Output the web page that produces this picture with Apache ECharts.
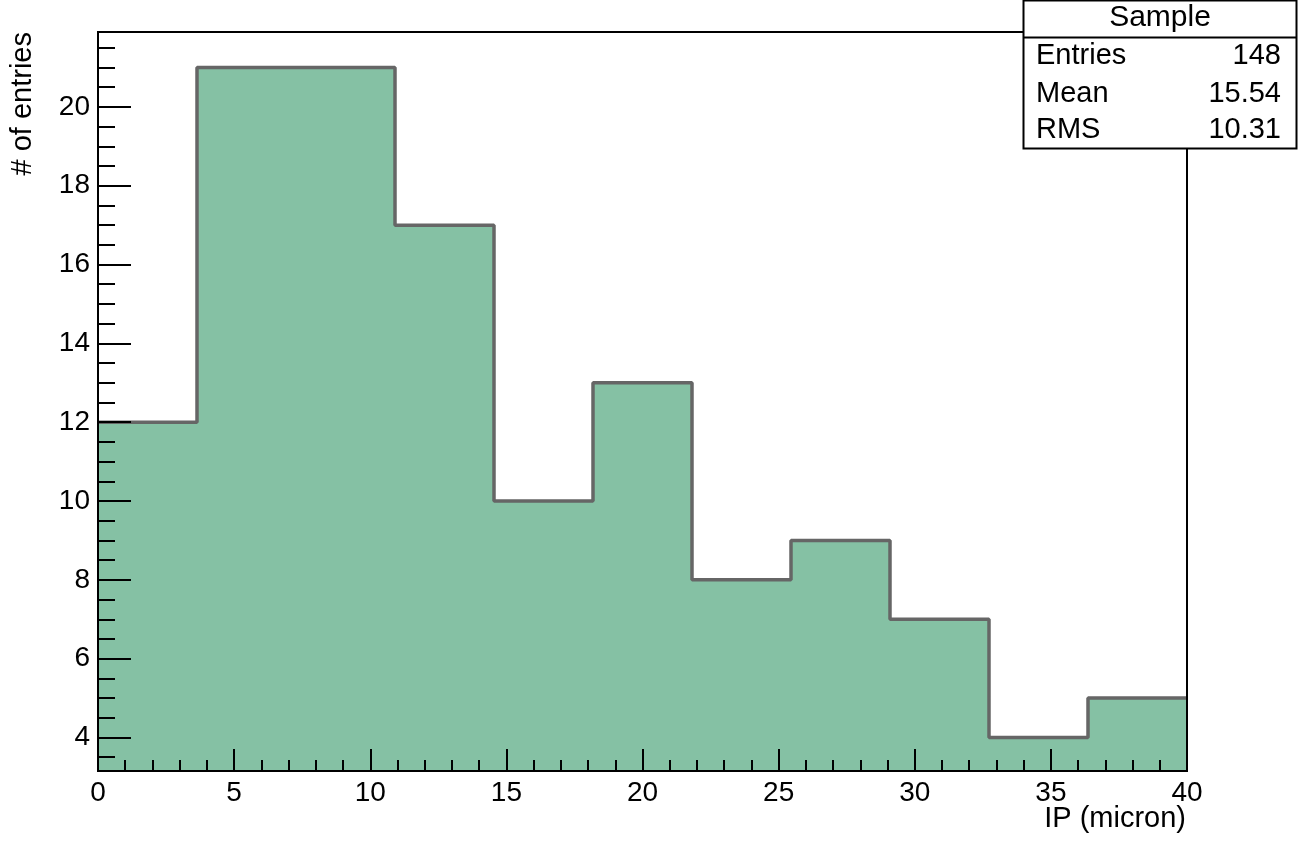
<!DOCTYPE html>
<html>
<head>
<meta charset="utf-8">
<script src="https://cdn.jsdelivr.net/npm/echarts@6/dist/echarts.min.js"></script>
<style>
html,body{margin:0;padding:0;background:#fff;}
#c{width:1298px;height:841px;}
</style>
</head>
<body>
<div id="c"></div>
<script>
// ---- data ----
const xRange = [0, 40];
const nBins = 11;
const binCounts = [12, 21, 21, 17, 10, 13, 8, 9, 7, 4, 5];
const yRange = [3.15, 21.9];
const statsTitle = 'Sample';
const statsLabels = ['Entries', 'Mean', 'RMS'];
const statsValues = ['148', '15.54', '10.31'];
const xTitle = 'IP (micron)';
const yTitle = '# of entries';

// build step points from bin edges
const binWidth = (xRange[1] - xRange[0]) / nBins;
const stepData = binCounts.map((v, i) => [xRange[0] + i * binWidth, v]);
stepData.push([xRange[1], binCounts[binCounts.length - 1]]);

const font = '"Liberation Sans", Arial, Helvetica, sans-serif';
const chart = echarts.init(document.getElementById('c'), null, {renderer: 'canvas'});

const statsGraphics = [
  {type: 'rect', shape: {x: 1023.5, y: 0.5, width: 273, height: 148}, style: {fill: '#fff', stroke: '#000', lineWidth: 2}, z: 100},
  {type: 'line', shape: {x1: 1023.5, y1: 37.5, x2: 1296.5, y2: 37.5}, style: {stroke: '#000', lineWidth: 2}, z: 101},
  {type: 'text', x: 1160, y: 18, style: {text: statsTitle, font: '30px ' + font, fill: '#000', align: 'center', verticalAlign: 'middle'}, z: 102}
];
const rowY = [56, 94, 130];
statsLabels.forEach((lab, i) => {
  statsGraphics.push({type: 'text', x: 1036, y: rowY[i], style: {text: lab, font: '29px ' + font, fill: '#000', align: 'left', verticalAlign: 'middle'}, z: 102});
  statsGraphics.push({type: 'text', x: 1281, y: rowY[i], style: {text: statsValues[i], font: '29px ' + font, fill: '#000', align: 'right', verticalAlign: 'middle'}, z: 102});
});

const option = {
  animation: false,
  backgroundColor: '#fff',
  grid: {left: 98, right: 111, top: 32, bottom: 70, containLabel: false, outerBoundsMode: 'none',
    show: true, borderColor: '#000', borderWidth: 2, backgroundColor: 'transparent', z: 10},
  xAxis: {
    type: 'value', min: xRange[0], max: xRange[1], interval: 5,
    axisLine: {show: true, onZero: false, lineStyle: {color: '#000', width: 2}},
    axisTick: {show: true, inside: true, length: 22, lineStyle: {color: '#000', width: 2}},
    minorTick: {show: true, splitNumber: 5, length: 11, lineStyle: {color: '#000', width: 2}},
    axisLabel: {fontFamily: font, fontSize: 28, color: '#000', margin: 8},
    splitLine: {show: false}, minorSplitLine: {show: false}, z: 10
  },
  yAxis: {
    type: 'value', min: yRange[0], max: yRange[1], splitNumber: 9,
    axisLine: {show: true, onZero: false, lineStyle: {color: '#000', width: 2}},
    axisTick: {show: true, inside: true, length: 33, lineStyle: {color: '#000', width: 2}},
    minorTick: {show: true, splitNumber: 4, length: 17, lineStyle: {color: '#000', width: 2}},
    axisLabel: {fontFamily: font, fontSize: 28, color: '#000', margin: 8, showMinLabel: false, showMaxLabel: false,
      formatter: v => (Math.abs(v - Math.round(v)) < 1e-6 ? String(Math.round(v)) : '')},
    splitLine: {show: false}, minorSplitLine: {show: false}, z: 10
  },
  series: [{
    type: 'line', step: 'end', data: stepData, symbol: 'none', clip: true,
    lineStyle: {color: '#666666', width: 3.5},
    areaStyle: {color: '#85c1a4', opacity: 1, origin: 'start'},
    z: 2
  }],
  graphic: [
    {type: 'text', x: 23, y: 32, rotation: Math.PI / 2, style: {text: yTitle, font: '29px ' + font, fill: '#000', align: 'right', verticalAlign: 'middle'}},
    {type: 'text', x: 1186, y: 819, style: {text: xTitle, font: '29px ' + font, fill: '#000', align: 'right', verticalAlign: 'middle'}},
    ...statsGraphics
  ]
};
chart.setOption(option);
</script>
</body>
</html>
